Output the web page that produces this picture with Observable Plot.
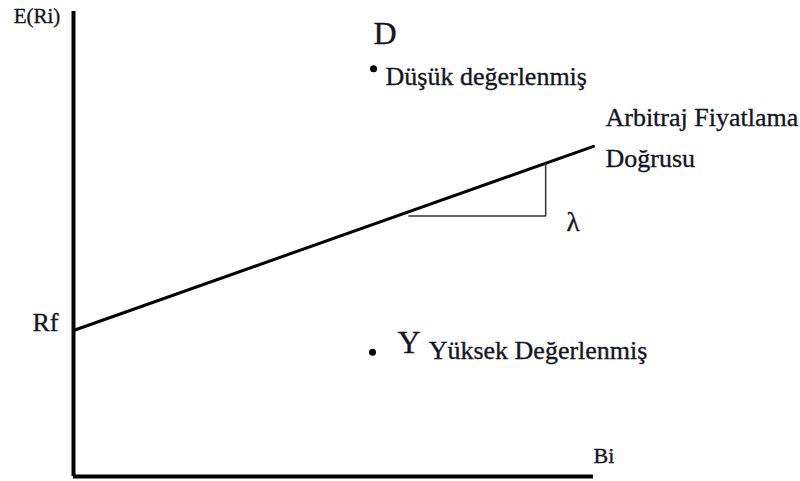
<!DOCTYPE html>
<html>
<head>
<meta charset="utf-8">
<script src="https://cdn.jsdelivr.net/npm/d3@7"></script>
<script src="https://cdn.jsdelivr.net/npm/@observablehq/plot@0.6"></script>
<style>
  html, body { margin: 0; padding: 0; background: #fff; }
  svg { display: block; }
</style>
</head>
<body>
<div id="chart"></div>
<script>
// Arbitraj Fiyatlama Doğrusu (chart units: x = Bi, y = E(Ri))
const rf = 3.14;
const aplX = [0, 10];
const aplY = [3.14, 7.1];
const triangleX = [6.45, 9.08, 9.08];
const triangleY = [5.6, 5.6, 6.73];
const pointNames = ["D", "Y"];
const pointX = [5.77, 5.75];
const pointY = [8.77, 2.67];
const pointDesc = ["Düşük değerlenmiş", "Yüksek Değerlenmiş"];
const descX = [6.0, 6.83];
const descY = [8.41, 2.52];
const letterX = [5.77, 6.23];
const letterY = [9.31, 2.65];
const axisLabels = ["E(Ri)", "Bi", "Rf"];
const axisLabelX = [-1.15, 10.0, -0.79];
const axisLabelY = [9.76, 0.30, 3.12];
const lineLabels = ["Arbitraj Fiyatlama", "Doğrusu"];
const lineLabelX = [10.23, 10.23];
const lineLabelY = [7.53, 6.65];
const slopeLabel = "λ";
const slopeX = 9.48, slopeY = 5.29;

const apl = aplX.map((x, i) => ({x, y: aplY[i]}));
const tri = triangleX.map((x, i) => ({x, y: triangleY[i]}));
const pts = pointNames.map((n, i) => ({n, x: pointX[i], y: pointY[i]}));
const letters = pointNames.map((n, i) => ({n, x: letterX[i], y: letterY[i]}));
const descs = pointDesc.map((t, i) => ({t, x: descX[i], y: descY[i]}));
const axl = axisLabels.map((t, i) => ({t, x: axisLabelX[i], y: axisLabelY[i]}));
const lnl = lineLabels.map((t, i) => ({t, x: lineLabelX[i], y: lineLabelY[i]}));

const font = "'Liberation Serif', 'Times New Roman', serif";
const txt = (data, size, extra = {}) => Plot.text(data, {
  x: "x", y: "y", text: d => d.t ?? d.n,
  textAnchor: "start", lineAnchor: "bottom",
  fontSize: size, fontFamily: font, fill: "#15151f",
  stroke: "#15151f", strokeWidth: 0.35, ...extra
});

const chart = Plot.plot({
  width: 800, height: 481,
  marginLeft: 73, marginRight: 207, marginTop: 11, marginBottom: 5,
  x: {domain: [0, 10], axis: null},
  y: {domain: [0, 10], axis: null},
  style: {background: "#fff", overflow: "visible"},
  marks: [
    Plot.ruleX([0], {y1: 0, y2: 10, stroke: "#000", strokeWidth: 4}),
    Plot.ruleY([0], {x1: 0, x2: 10, stroke: "#000", strokeWidth: 4}),
    Plot.line(apl, {x: "x", y: "y", stroke: "#000", strokeWidth: 3}),
    Plot.line(tri, {x: "x", y: "y", stroke: "#333", strokeWidth: 1.5}),
    Plot.dot(pts, {x: "x", y: "y", r: 3.5, fill: "#000", stroke: "none"}),
    txt(letters, 32),
    txt(descs, 26),
    txt(lnl, 26),
    txt(axl.filter(d => d.t === "E(Ri)"), 21),
    txt(axl.filter(d => d.t === "Bi"), 22),
    txt(axl.filter(d => d.t === "Rf"), 26),
    txt([{t: slopeLabel, x: slopeX, y: slopeY}], 27)
  ]
});
document.getElementById("chart").appendChild(chart);
</script>
</body>
</html>
